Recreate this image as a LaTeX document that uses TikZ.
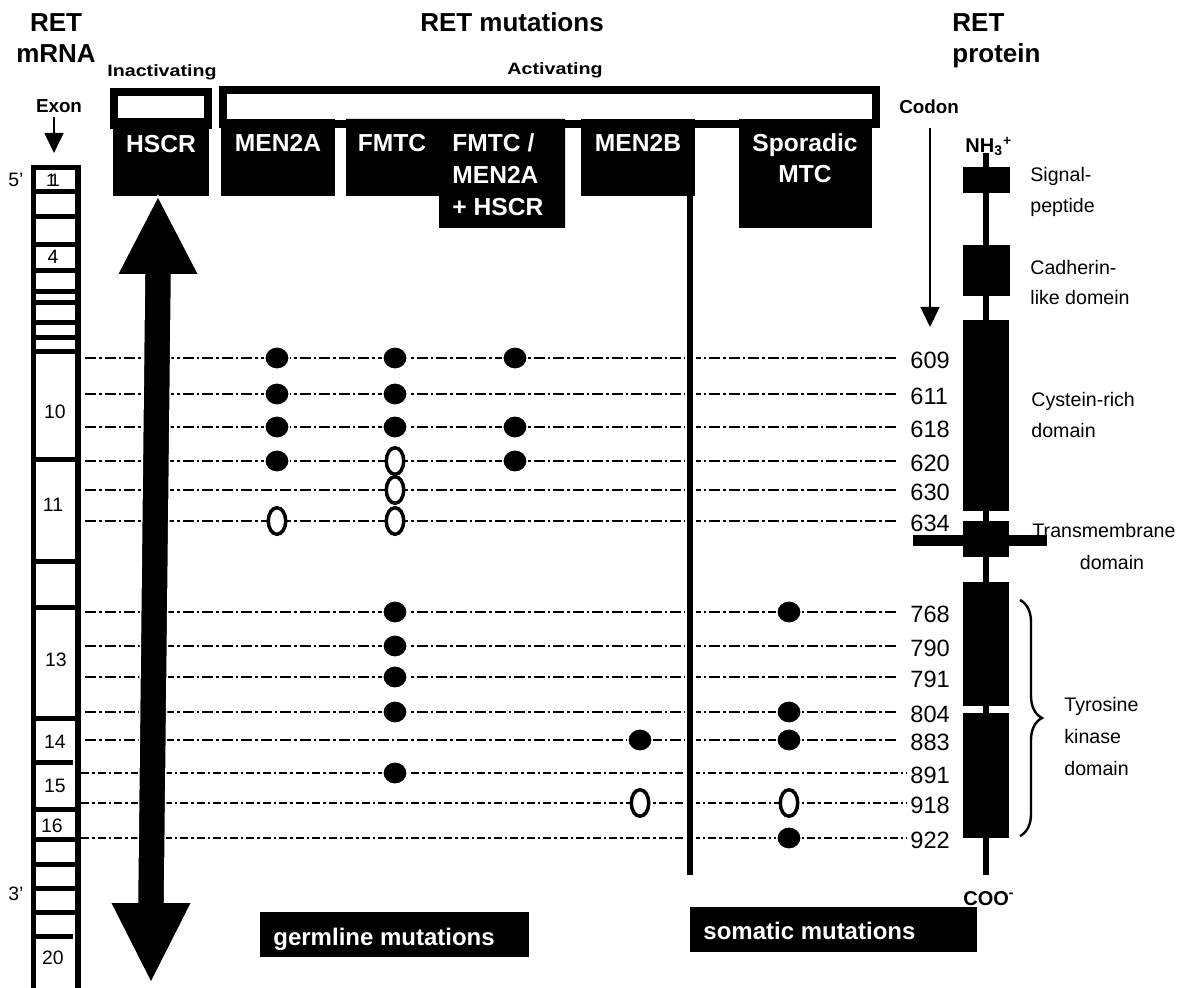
\documentclass[tikz,border=0pt]{standalone}
\usepackage{fontspec}
\setmainfont{Liberation Sans}
\usepackage{graphicx}
\usetikzlibrary{arrows.meta,decorations.pathreplacing,shapes.geometric}
\begin{document}
\begin{tikzpicture}[x=0.5pt,y=-0.5pt,
  title/.style={font=\fontsize{13}{15}\selectfont\bfseries, inner sep=0pt, anchor=base},
  small/.style={font=\fontsize{8.2}{10}\selectfont\bfseries, inner sep=0pt, anchor=base},
  hdr/.style={font=\fontsize{9.4}{11}\selectfont\bfseries, inner sep=0pt, anchor=base},
  boxtxt/.style={font=\fontsize{12.3}{14}\selectfont\bfseries, text=white, inner sep=0pt, anchor=base},
  bottxt/.style={font=\fontsize{12}{14}\selectfont\bfseries, text=white, inner sep=0pt, anchor=base west},
  exnum/.style={font=\fontsize{9.7}{11}\selectfont, inner sep=0pt},
  codnum/.style={font=\fontsize{11.8}{13}\selectfont, inner sep=0pt, anchor=west},
  dom/.style={font=\fontsize{9.8}{11}\selectfont, inner sep=0pt, anchor=base west},
  term/.style={font=\fontsize{10}{12}\selectfont\bfseries, inner sep=0pt, anchor=base west},
  frame/.style={line width=4pt},
  mutline/.style={line width=1pt, dash pattern=on 5.5pt off 1.5pt on 1.25pt off 1.5pt},
  mutlineB/.style={line width=1pt, dash pattern=on 4pt off 1.5pt on 1.25pt off 1.5pt},
  fdot/.style={ellipse, fill=black, draw=white, line width=0.75pt, inner sep=0pt, minimum width=12.25pt, minimum height=11.25pt},
  odot/.style={ellipse, fill=white, draw=black, line width=1.75pt, inner sep=0pt, minimum width=8.75pt, minimum height=13.25pt},
  thinarrow/.style={line width=0.75pt, -{Triangle[length=10pt,width=9.5pt]}}
]
\useasboundingbox (0,0) rectangle (1182,988);

% titles
\node[title] (t1a) at (56,32) {RET};
\node[title] (t1b) at (56,63) {mRNA};
\node[title] (t2) at (512,32) {RET mutations};
\node[title, anchor=base west] (t3a) at (952,32) {RET};
\node[title, anchor=base west] (t3b) at (952,63) {protein};
\node[small] (inact) at (162,77) {\scalebox{1.2}[1]{Inactivating}};
\node[small] (act) at (555,75) {\scalebox{1.2}[1]{Activating}};
\node[hdr] (exonlbl) at (59,113) {Exon};
\node[hdr] (codonlbl) at (929,114) {Codon};

% frames
\draw[frame] (114,92.5) -- (208,92.5) -- (208,125) -- (114,125) -- cycle;
\draw[frame] (223,90) rectangle (875.5,124);

% boxes
\fill (113,118) rectangle (209,196);
\fill (221,119) rectangle (335,196);
\fill (346,119) -- (565,119) -- (565,228) -- (439,228) -- (439,196) -- (346,196) -- cycle;
\fill (581,119) rectangle (695,196);
\fill (739,119) rectangle (872,228);
\node[boxtxt] (hscr) at (161,153) {HSCR};
\node[boxtxt] (men2a) at (278,152) {MEN2A};
\node[boxtxt] (fmtc) at (392,152) {FMTC};
\node[boxtxt, anchor=base west] (fm1) at (452,152) {FMTC /};
\node[boxtxt, anchor=base west] (fm2) at (452,184) {MEN2A};
\node[boxtxt, anchor=base west] (fm3) at (452,216) {+ HSCR};
\node[boxtxt] (men2b) at (638,152) {MEN2B};
\node[boxtxt] (spor1) at (805,152) {Sporadic};
\node[boxtxt] (spor2) at (805,183) {MTC};

% exon column
\draw[line width=2.75pt] (33.5,167.5) rectangle (78,992);
\foreach \yy in {192,217,245,271,292,303,323,338,352,460,561,607,718,809,839,864,888,912}
  \draw[line width=2.5pt] (33.5,\yy) -- (75,\yy);
\draw[line width=2.5pt] (33.5,762) -- (73,762);
\draw[line width=2.5pt] (33.5,936) -- (73,936);
\node[exnum, font=\fontsize{9}{10}\selectfont] (e1) at (53,180.5) {1\kern-3.1pt 1};
\node[exnum] (e4) at (53,257) {4};
\node[exnum] (e10) at (55,412) {10};
\node[exnum] (e11) at (53,505) {11};
\node[exnum] (e13) at (56,660) {13};
\node[exnum] (e14) at (55,742) {14};
\node[exnum] (e15) at (55,786) {15};
\node[exnum] (e16) at (52,826) {16};
\node[exnum] (e20) at (53,958) {20};
\node[exnum, anchor=base west] (p5) at (8,187) {5’};
\node[exnum, anchor=base west] (p3) at (8,900) {3’};
\coordinate (exA) at (54,117);
\coordinate (exB) at (54,153);
\draw[thinarrow] (exA) -- (exB);

% codon arrow
\coordinate (coA) at (930,128);
\coordinate (coB) at (930,327);
\draw[thinarrow] (coA) -- (coB);

% mutation lines and codon numbers
\foreach \yy/\lab in {358/609, 394/611, 427/618, 461/620, 490/630, 521/634, 612/768, 646/790, 677/791, 712/804, 740/883}{
  \draw[mutline] (85,\yy) -- (897,\yy);
  \node[codnum] (c\lab) at (910,\yy+2) {\lab};
}
\foreach \yy/\lab in {773/891, 803/918, 838/922}{
  \draw[mutlineB] (81,\yy) -- (907,\yy);
  \node[codnum] (c\lab) at (910,\yy+2) {\lab};
}

% vertical separator germline / somatic
\coordinate (vsA) at (690,196);
\coordinate (vsB) at (690,875);
\draw[white, line width=5.5pt] (vsA) -- (vsB);
\draw[line width=2.75pt] (vsA) -- (vsB);

% big double arrow
\fill[draw=white, line width=0.75pt] (158,196) -- (199,275) -- (171.5,275) -- (164.5,902) -- (192,902) -- (151,983)
  -- (110,902) -- (137.5,902) -- (144.5,275) -- (117,275) -- cycle;

% mutation dots
\node[fdot] (a609) at (277,358) {};
\node[fdot] (b609) at (395,358) {};
\node[fdot] (c609d) at (515,358) {};
\node[fdot] (a611) at (277,394) {};
\node[fdot] (b611) at (395,394) {};
\node[fdot] (a618) at (277,427) {};
\node[fdot] (b618) at (395,427) {};
\node[fdot] (c618d) at (515,427) {};
\node[fdot] (a620) at (277,461) {};
\node[odot] (b620) at (395,461) {};
\node[fdot] (c620d) at (515,461) {};
\node[odot] (b630) at (395,490) {};
\node[odot] (a634) at (277,521) {};
\node[odot] (b634) at (395,521) {};
\node[fdot] (b768) at (395,612) {};
\node[fdot] (s768) at (789,612) {};
\node[fdot] (b790) at (395,646) {};
\node[fdot] (b791) at (395,677) {};
\node[fdot] (b804) at (395,712) {};
\node[fdot] (s804) at (789,712) {};
\node[fdot] (m883) at (640,740) {};
\node[fdot] (s883) at (789,740) {};
\node[fdot] (b891) at (395,773) {};
\node[odot] (m918) at (640,803) {};
\node[odot] (s918) at (789,803) {};
\node[fdot] (s922) at (789,838) {};

% protein
\draw[line width=3pt] (985.5,153) -- (985.5,875);
\fill (963,167) rectangle (1010,193);
\fill (963,245) rectangle (1010,296);
\fill (963,320) rectangle (1009,511);
\fill (963,521) rectangle (1009,557);
\fill (913,535) rectangle (1047,546);
\fill (963,582) rectangle (1009,706);
\fill (963,713) rectangle (1009,838);
\node[term] (nh3) at (965,153) {NH\textsubscript{3}\textsuperscript{+}};
\node[term] (coo) at (963,905) {COO\textsuperscript{-}};
\node[dom] (sig1) at (1030,182) {Signal-};
\node[dom] (sig2) at (1030,213) {peptide};
\node[dom] (cad1) at (1030,275) {Cadherin-};
\node[dom] (cad2) at (1030,305) {like domein};
\node[dom] (cys1) at (1031,407) {Cystein-rich};
\node[dom] (cys2) at (1031,438) {domain};
\node[dom, anchor=base] (tm1) at (1104,537) {Transmembrane};
\node[dom, anchor=base] (tm2) at (1112,569) {domain};
\node[dom] (tk1) at (1064,711) {Tyrosine};
\node[dom] (tk2) at (1064,743) {kinase};
\node[dom] (tk3) at (1064,775) {domain};
\coordinate (brA) at (1020,600);
\coordinate (brB) at (1020,836);
\draw[line width=1.2pt, decorate, decoration={brace, amplitude=11pt}] (brA) -- (brB);

% bottom labels
\fill (260,912) rectangle (529,957);
\node[bottxt] (germ) at (273,945) {germline mutations};
\fill (690,907) rectangle (977,952);
\node[bottxt] (soma) at (703,939) {somatic mutations};
\end{tikzpicture}
\end{document}
